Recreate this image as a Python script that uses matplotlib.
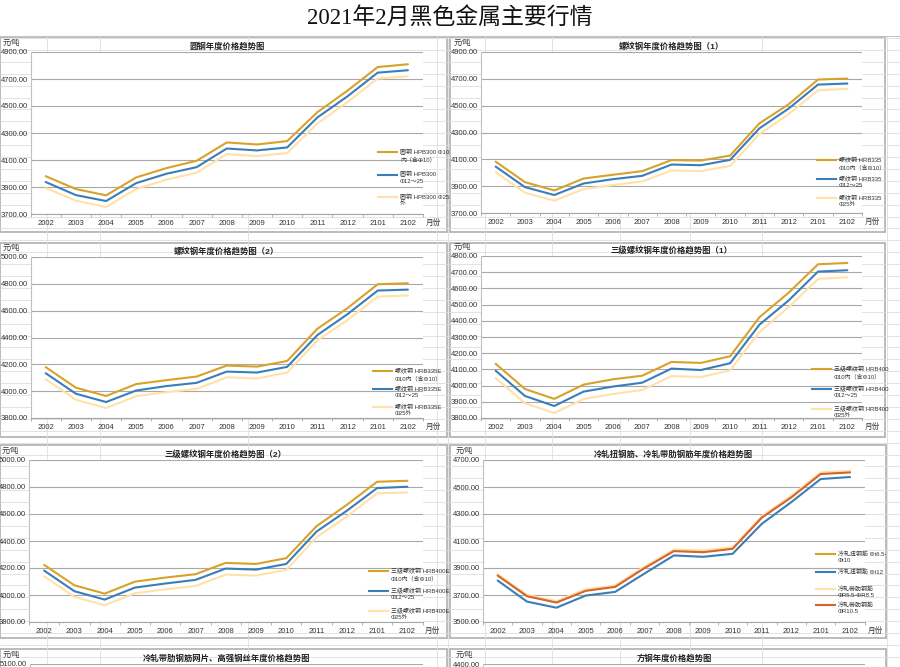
import matplotlib
matplotlib.use("Agg")
import matplotlib.pyplot as plt
from matplotlib.patches import Rectangle
from matplotlib.lines import Line2D

plt.rcParams["font.family"] = ["Liberation Sans", "Noto Sans CJK SC"]

W, H = 900, 667

months = ["2002", "2003", "2004", "2005", "2006", "2007", "2008",
          "2009", "2010", "2011", "2012", "2101", "2102"]

# 圆钢 HPB300
round_a = [3980, 3885, 3838, 3971, 4040, 4094, 4230, 4215, 4240, 4454, 4614, 4789, 4809]
round_b = [3937, 3840, 3796, 3929, 3998, 4047, 4185, 4171, 4193, 4415, 4572, 4747, 4765]
round_c = [3892, 3799, 3752, 3885, 3954, 4006, 4144, 4129, 4151, 4370, 4530, 4703, 4720]

# 螺纹钢 HRB335
rebar_a = [4083, 3930, 3868, 3957, 3985, 4012, 4094, 4091, 4128, 4368, 4511, 4695, 4702]
rebar_b = [4046, 3893, 3834, 3920, 3952, 3977, 4061, 4056, 4096, 4331, 4479, 4657, 4665]
rebar_c = [4004, 3851, 3792, 3878, 3908, 3935, 4017, 4012, 4051, 4289, 4437, 4615, 4625]

# 螺纹钢 HRB335E
rebar_e_a = [4179, 4026, 3964, 4053, 4082, 4109, 4191, 4183, 4225, 4465, 4619, 4797, 4804]
rebar_e_b = [4134, 3981, 3919, 4005, 4038, 4062, 4146, 4139, 4181, 4418, 4574, 4750, 4757]
rebar_e_c = [4089, 3936, 3874, 3963, 3993, 4017, 4104, 4094, 4139, 4379, 4530, 4705, 4713]

# 三级螺纹钢 HRB400
hrb400_a = [4135, 3979, 3918, 4006, 4039, 4061, 4146, 4140, 4181, 4422, 4574, 4749, 4757]
hrb400_b = [4092, 3936, 3874, 3963, 3994, 4018, 4105, 4096, 4138, 4376, 4526, 4704, 4712]
hrb400_c = [4047, 3891, 3831, 3917, 3948, 3973, 4059, 4053, 4094, 4331, 4485, 4658, 4669]

# 三级螺纹钢 HRB400E
hrb400e_a = [4223, 4072, 4010, 4099, 4129, 4154, 4238, 4230, 4273, 4510, 4668, 4839, 4846]
hrb400e_b = [4181, 4028, 3966, 4055, 4085, 4112, 4196, 4188, 4230, 4470, 4624, 4792, 4802]
hrb400e_c = [4139, 3986, 3924, 4013, 4042, 4067, 4151, 4144, 4186, 4428, 4582, 4753, 4760]

# 冷轧扭钢筋 / 冷轧带肋钢筋
twist_small = [3849, 3696, 3649, 3736, 3765, 3904, 4030, 4022, 4047, 4279, 4428, 4601, 4613]
twist_12 = [3807, 3651, 3606, 3696, 3723, 3859, 3993, 3983, 4005, 4228, 4388, 4559, 4574]
ribbed_small = [3855, 3700, 3655, 3742, 3771, 3910, 4037, 4030, 4054, 4285, 4435, 4608, 4620]
ribbed_105 = [3844, 3691, 3644, 3731, 3760, 3899, 4025, 4017, 4042, 4274, 4423, 4596, 4608]

GOLD = "#D8A22A"
BLUE = "#3A7EB8"
PALE = "#FFE1AA"
RUST = "#D3652D"

TRIO_SUFFIX = ["\nΦ10内（含Φ10）", "\nΦ12～25", "\nΦ25外"]

panels = [
    dict(box=(0, 37, 447, 232), plot=(30.6, 52, 423, 214), title="圆钢年度价格趋势图",
         ylim=(3700, 4900), step=200,
         series=[(round_a, GOLD, "圆钢 HPB300 Φ10\n内（含Φ10）"),
                 (round_b, BLUE, "圆钢 HPB300\nΦ12～25"),
                 (round_c, PALE, "圆钢 HPB300 Φ25\n外")],
         leg_x=378, leg_y=[152, 174.5, 197]),
    dict(box=(450, 37, 885, 232), plot=(481, 52, 862, 213), title="螺纹钢年度价格趋势图（1）",
         ylim=(3700, 4900), step=200,
         series=[(rebar_a, GOLD, "螺纹钢 HRB335" + TRIO_SUFFIX[0]),
                 (rebar_b, BLUE, "螺纹钢 HRB335" + TRIO_SUFFIX[1]),
                 (rebar_c, PALE, "螺纹钢 HRB335" + TRIO_SUFFIX[2])],
         leg_x=817, leg_y=[160, 179, 198]),
    dict(box=(0, 243, 447, 437), plot=(30.6, 257, 423, 418), title="螺纹钢年度价格趋势图（2）",
         ylim=(3800, 5000), step=200,
         series=[(rebar_e_a, GOLD, "螺纹钢 HRB335E" + TRIO_SUFFIX[0]),
                 (rebar_e_b, BLUE, "螺纹钢 HRB335E" + TRIO_SUFFIX[1]),
                 (rebar_e_c, PALE, "螺纹钢 HRB335E" + TRIO_SUFFIX[2])],
         leg_x=373, leg_y=[371, 389, 407]),
    dict(box=(450, 243, 885, 437), plot=(481, 256, 862, 418), title="三级螺纹钢年度价格趋势图（1）",
         ylim=(3800, 4800), step=100,
         series=[(hrb400_a, GOLD, "三级螺纹钢 HRB400" + TRIO_SUFFIX[0]),
                 (hrb400_b, BLUE, "三级螺纹钢 HRB400" + TRIO_SUFFIX[1]),
                 (hrb400_c, PALE, "三级螺纹钢 HRB400" + TRIO_SUFFIX[2])],
         leg_x=812, leg_y=[369, 389, 409]),
    dict(box=(0, 445, 447, 638), plot=(29, 460, 422.5, 622), title="三级螺纹钢年度价格趋势图（2）",
         ylim=(3800, 5000), step=200,
         series=[(hrb400e_a, GOLD, "三级螺纹钢 HRB400E" + TRIO_SUFFIX[0]),
                 (hrb400e_b, BLUE, "三级螺纹钢 HRB400E" + TRIO_SUFFIX[1]),
                 (hrb400e_c, PALE, "三级螺纹钢 HRB400E" + TRIO_SUFFIX[2])],
         leg_x=369, leg_y=[571, 591, 611]),
    dict(box=(450, 445, 886, 638), plot=(483, 460, 864.7, 622), title="冷轧扭钢筋、冷轧带肋钢筋年度价格趋势图",
         ylim=(3500, 4700), step=200,
         series=[(twist_small, GOLD, "冷轧扭钢筋 Φt6.5-\nΦt10"),
                 (twist_12, BLUE, "冷轧扭钢筋 Φt12"),
                 (ribbed_small, PALE, "冷轧带肋钢筋\nΦR5.5-ΦR8.5"),
                 (ribbed_105, RUST, "冷轧带肋钢筋\nΦR10.5")],
         leg_x=816, leg_y=[554, 572, 589, 605]),
]

# the next row of charts is cut off by the bottom of the screenshot
partial_panels = [
    dict(box=(0, 649, 447, 720), plot=(30, 664, 423, 826), title="冷轧带肋钢筋网片、高强钢丝年度价格趋势图",
         ylim=(3900, 5100), step=200),
    dict(box=(450, 649, 886, 720), plot=(483, 664, 865, 826), title="方钢年度价格趋势图",
         ylim=(3200, 4400), step=200),
]

fig = plt.figure(figsize=(9, 6.67), dpi=100)


def px_axes(x0, y0, x1, y1):
    return fig.add_axes([x0 / W, 1 - y1 / H, (x1 - x0) / W, (y1 - y0) / H])


# spreadsheet background
bg = px_axes(0, 0, W, H)
bg.set_xlim(0, W)
bg.set_ylim(H, 0)
bg.axis("off")
row_y = [38 + 11.9 * k for k in range(54)]
bg.hlines(row_y, 0, W, color="#dedede", lw=0.6)
bg.vlines([47, 100, 248, 437, 448, 485, 552, 620, 690, 762, 887], 36, H, color="#dedede", lw=0.6)
bg.hlines([36], 0, W, color="#c4c4c4", lw=0.8)
bg.text(450, 18, "2021年2月黑色金属主要行情", ha="center", va="center", fontsize=16.5,
        family=["Liberation Serif", "Noto Sans CJK SC"], color="#111111")

for p in panels + partial_panels:
    x0, y0, x1, y1 = p["box"]
    bg.add_patch(Rectangle((x0, y0), x1 - x0, y1 - y0, facecolor="white",
                           edgecolor="#b5b5b5", lw=1.3))


def style_axes(ax, p, full=True):
    lo, hi = p["ylim"]
    ax.set_ylim(lo, hi)
    ax.set_xlim(-0.5, len(months) - 0.5)
    ticks = list(range(lo, hi + 1, p["step"]))
    if not full:
        ticks = [hi]
    ax.set_yticks(ticks)
    ax.set_yticklabels([f"{t:.2f}" for t in ticks])
    if full:
        ax.set_xticks(range(len(months)))
        ax.set_xticklabels(months)
        ax.set_xticks([i - 0.5 for i in range(len(months) + 1)], minor=True)
    else:
        ax.set_xticks([])
    ax.tick_params(axis="both", which="major", length=0, labelsize=5.5, labelcolor="#333333")
    ax.tick_params(axis="y", pad=2)
    ax.tick_params(axis="x", pad=4)
    ax.tick_params(axis="x", which="minor", length=2.5, color="#a6a6a6", width=0.6)
    ax.yaxis.grid(True, color="#a8a8a8", lw=0.8)
    ax.set_axisbelow(True)
    for side in ("top", "right"):
        ax.spines[side].set_visible(False)
    ax.spines["left"].set_color("#c0c0c0")
    ax.spines["left"].set_linewidth(0.8)
    ax.spines["bottom"].set_color("#a6a6a6")
    ax.spines["bottom"].set_linewidth(0.8)
    ax.set_title(p["title"], fontsize=6, fontweight="bold", pad=2.5, color="#222222")
    ax.annotate("元/吨", xy=(0, 1), xycoords="axes fraction", xytext=(-20, 6),
                textcoords="offset points", ha="left", va="center", fontsize=5.5, color="#333333")


for p in panels:
    ax = px_axes(*p["plot"])
    style_axes(ax, p)
    lines = []
    for values, color, label in p["series"]:
        (ln,) = ax.plot(range(len(months)), values, color=color, lw=1.5,
                        solid_capstyle="round", label=label)
        lines.append(ln)
    p["lines"] = lines
    ax.annotate("月份", xy=(1, 0), xycoords="axes fraction", xytext=(2, -6.5),
                textcoords="offset points", ha="left", va="center", fontsize=5.5,
                color="#333333")

for p in partial_panels:
    ax = px_axes(*p["plot"])
    style_axes(ax, p, full=False)

# legends drawn on a transparent overlay so they sit over the plot areas
ov = px_axes(0, 0, W, H)
ov.set_xlim(0, W)
ov.set_ylim(H, 0)
ov.axis("off")
for p in panels:
    x = p["leg_x"]
    for ln, yy in zip(p["lines"], p["leg_y"]):
        ov.add_line(Line2D([x, x + 19], [yy, yy], color=ln.get_color(), lw=1.5))
        ov.text(x + 22, yy - 3.2, ln.get_label(), ha="left", va="top", fontsize=4.3,
                linespacing=1.35, color="#333333")

fig.savefig("out.png", dpi=100)
